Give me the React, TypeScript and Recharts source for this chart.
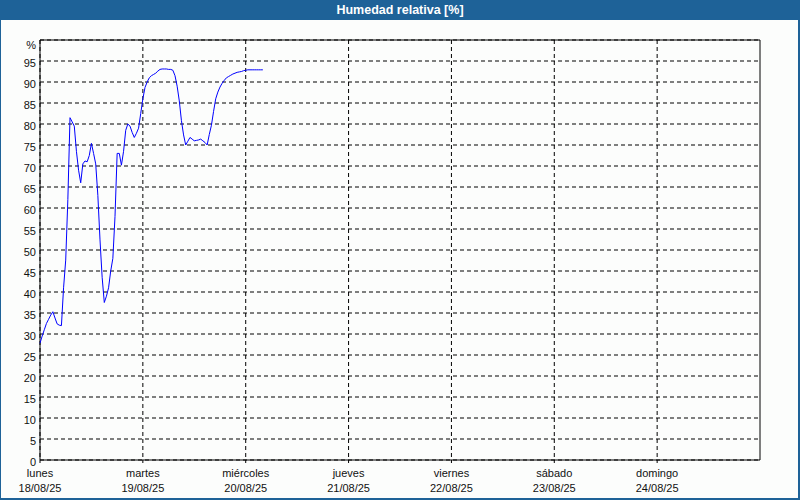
import { CartesianGrid, Line, LineChart, ReferenceArea, XAxis, YAxis } from "recharts";

const title = "Humedad relativa [%]";
const dayNames = ["lunes", "martes", "miércoles", "jueves", "viernes", "sábado", "domingo"];
const dayDates = ["18/08/25", "19/08/25", "20/08/25", "21/08/25", "22/08/25", "23/08/25", "24/08/25"];
const dayTicks = [0, 24, 48, 72, 96, 120, 144];
const yTicks = [0, 5, 10, 15, 20, 25, 30, 35, 40, 45, 50, 55, 60, 65, 70, 75, 80, 85, 90, 95, 100];

// one reading every half hour from lunes 00:00
const stepHours = 0.5;
const humidity = [
  27.8, 29.5, 31, 32.5, 33.5, 34.5, 35.3, 33.8, 32.4, 32.1, 32, 41, 47.6, 62, 81.5, 80.5,
  79.5, 73.5, 69, 66, 70.5, 71.2, 71, 72.5, 75.4, 73, 70.5, 63, 52.4, 43.5, 37.5, 39,
  41, 45, 48, 58, 73, 73, 70.2, 73.5, 78.5, 80, 79.5, 78, 76.8, 77.8, 79, 82.5,
  86, 88.7, 90, 91, 91.5, 91.8, 92.1, 92.6, 93, 93.1, 93.1, 93.1, 93, 93, 92.8, 91.5,
  89, 85.5, 80.8, 77.4, 75, 75.9, 76.8, 76.4, 76, 76.1, 76.2, 76.4, 76, 75.6, 75, 77.5,
  79.7, 83, 86, 87.6, 88.8, 89.7, 90.4, 91, 91.3, 91.6, 91.9, 92.1, 92.3, 92.4, 92.5, 92.7,
  92.8, 92.9, 92.9, 92.9, 92.9, 92.9, 92.9, 92.9, 92.9,
];

const data = humidity.map((rh, i) => ({ t: i * stepHours, rh }));

const font = "'Liberation Sans', Arial, sans-serif";

const DayTick = ({ x, y, payload }: any) => {
  const i = dayTicks.indexOf(payload.value);
  if (i < 0) return null;
  return (
    <g>
      <text x={x} y={y + 14} textAnchor="middle" fontSize={11} fill="#111" fontFamily={font}>
        {dayNames[i]}
      </text>
      <text x={x} y={y + 29} textAnchor="middle" fontSize={11} fill="#111" fontFamily={font}>
        {dayDates[i]}
      </text>
    </g>
  );
};

const PctTick = ({ x, y, payload }: any) => {
  const top = payload.value === 100;
  return (
    <text x={x} y={y + (top ? 9 : 6)} textAnchor="end" fontSize={11} fill="#111" fontFamily={font}>
      {top ? "%" : payload.value}
    </text>
  );
};

export default function App() {
  return (
    <div
      style={{
        position: "absolute",
        left: 0,
        top: 0,
        width: 800,
        height: 500,
        background: "#1e6298",
      }}
    >
      <div
        style={{
          position: "absolute",
          left: 0,
          top: 0,
          width: 800,
          height: 20,
          lineHeight: "20px",
          textAlign: "center",
          color: "#fff",
          fontFamily: font,
          fontWeight: "bold",
          fontSize: 12.5,
        }}
      >
        {title}
      </div>
      <div
        style={{
          position: "absolute",
          left: 1,
          top: 20,
          width: 797,
          height: 478,
          background: "#fcfdfc",
        }}
      />
      <div style={{ position: "absolute", left: 0, top: 0 }}>
        <LineChart width={800} height={500} data={data} margin={{ top: 40, right: 40, bottom: 0, left: 0 }}>
          <CartesianGrid stroke="#000" strokeDasharray="4 3" horizontalValues={yTicks} verticalValues={dayTicks} />
          <XAxis
            dataKey="t"
            type="number"
            domain={[0, 168]}
            ticks={dayTicks}
            height={40}
            axisLine={false}
            tickLine={{ stroke: "#000" }}
            tickSize={3}
            tickMargin={0}
            tick={<DayTick />}
            interval={0}
          />
          <YAxis
            type="number"
            domain={[0, 100]}
            ticks={yTicks}
            width={40}
            axisLine={false}
            tickLine={false}
            tickSize={0}
            tickMargin={4}
            tick={<PctTick />}
            interval={0}
          />
          <ReferenceArea x1={0} x2={168} y1={0} y2={100} fill="none" stroke="#000" strokeWidth={1} />
          <Line
            type="linear"
            dataKey="rh"
            stroke="#0000ff"
            strokeWidth={1}
            dot={false}
            isAnimationActive={false}
          />
        </LineChart>
      </div>
    </div>
  );
}
